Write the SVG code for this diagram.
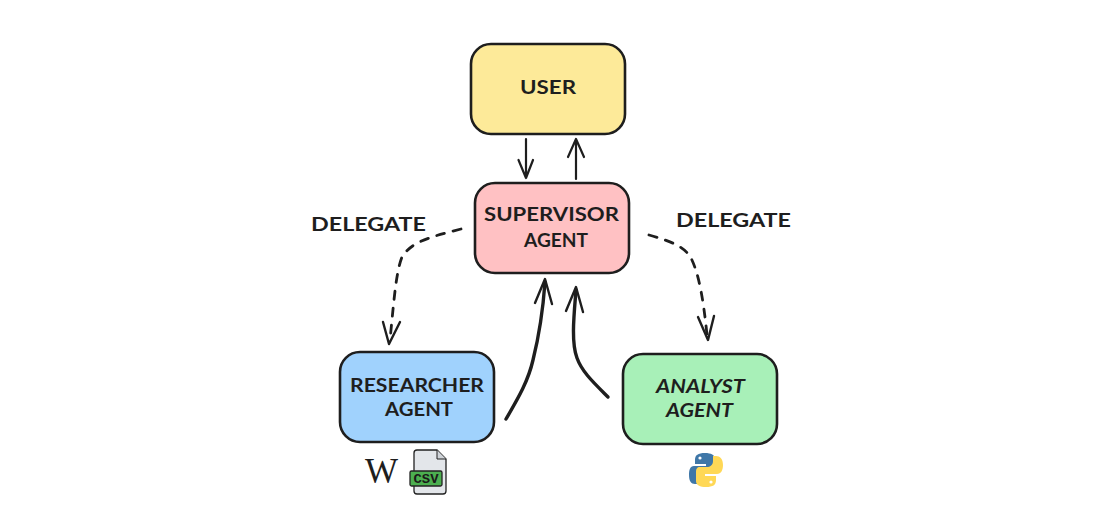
<svg xmlns="http://www.w3.org/2000/svg" width="1119" height="527" viewBox="0 0 1119 527">
<style>
.box{stroke:#1e1e1e;stroke-width:2.6}
.t{font-family:"Lato","Liberation Sans",sans-serif;font-size:19px;font-weight:700;fill:#1e1e1e;text-anchor:middle}
.c{fill:none;stroke:#1e1e1e;stroke-linecap:round;stroke-linejoin:round}
.thin{stroke-width:2.2}
.thick{stroke-width:3.4}
.head{stroke-width:2.4}
.dash{stroke-width:2.8;stroke-dasharray:8 9}
</style>
<rect width="1119" height="527" fill="#fff"/>
<g id="user"><rect class="box" x="471" y="44" width="154" height="90" rx="20" fill="#fdea99"/><text class="t" x="548" y="94" textLength="56" lengthAdjust="spacingAndGlyphs">USER</text></g>
<g id="supervisor"><rect class="box" x="475" y="183" width="154" height="90" rx="20" fill="#ffc1c3"/><text class="t" x="551.500" y="221" textLength="135" lengthAdjust="spacingAndGlyphs">SUPERVISOR</text><text class="t" x="556" y="247" textLength="64" lengthAdjust="spacingAndGlyphs">AGENT</text></g>
<g id="researcher"><rect class="box" x="340" y="352" width="154" height="90" rx="20" fill="#a0d2fd"/><text class="t" x="417" y="392" textLength="134" lengthAdjust="spacingAndGlyphs">RESEARCHER</text><text class="t" x="419" y="416" textLength="68" lengthAdjust="spacingAndGlyphs">AGENT</text></g>
<g id="analyst"><rect class="box" x="623" y="354" width="154" height="90" rx="20" fill="#a8f0b8"/><text class="t" x="700.500" y="393" textLength="89" lengthAdjust="spacingAndGlyphs" font-style="italic">ANALYST</text><text class="t" x="699.500" y="417" textLength="67" lengthAdjust="spacingAndGlyphs" font-style="italic">AGENT</text></g>
<g id="labels"><text class="t" x="368.500" y="231" textLength="115" lengthAdjust="spacingAndGlyphs">DELEGATE</text><text class="t" x="733.500" y="227" textLength="115" lengthAdjust="spacingAndGlyphs">DELEGATE</text></g>
<g id="connectors">
<path class="c thin" d="M526 139L526 178M518.500 160L526 178L533 160"/>
<path class="c thin" d="M576 179L576 140M568 157L576 139L584 157"/>
<path class="c dash" d="M461 229C425 238 411 243 402 257C396 272 394 300 390 340"/>
<path class="c head" d="M383 322L389 344L400 322"/>
<path class="c dash" d="M649 235C670 241 684 246 691 258C698 272 703 295 707 335"/>
<path class="c head" d="M698 317L708 340L714 316"/>
<path class="c thick" d="M506 419C517 400 528 382 533 360C538 340 543 310 545 282"/>
<path class="c head" d="M535 303L545 279L552 304"/>
<path class="c thick" d="M608 397C594 383 582 372 577 358C571 342 574 315 576 290"/>
<path class="c head" d="M566 311L576 287L583 312"/>
</g>
<g id="wikipedia-icon"><text x="381.500" y="483" font-family="'Liberation Serif',serif" font-size="35" fill="#1e1e1e" text-anchor="middle">W</text></g>
<g id="csv-icon">
<path d="M417 450H437L446 459V491Q446 494 443 494H417Q414 494 414 491V453Q414 450 417 450Z" fill="#e3e6ea" stroke="#222" stroke-width="1.300"/>
<path d="M437 450V459H446" fill="#cfd3d8" stroke="#222" stroke-width="1"/>
<rect x="410" y="471" width="32" height="15" rx="1.500" fill="#4caf50" stroke="#222" stroke-width="1.300"/>
<text x="426" y="483" font-family="'Liberation Mono','DejaVu Sans Mono',monospace" font-size="12.500" font-weight="700" fill="#1a1a1a" text-anchor="middle" textLength="25" lengthAdjust="spacingAndGlyphs">CSV</text>
</g>
<g id="python-icon">
<path d="M705 453C698 453 695 455 695 460V464H706V466H694C690 466 689 470 689 475C689 481 691 484 695 484H698V479C698 475 701 473 704 473H711C714 473 715 471 715 468V459C715 455 711 453 705 453Z" fill="#3f77a8"/>
<circle cx="700" cy="458" r="1.600" fill="#fff"/>
<path d="M706 487C713 487 716 485 716 480V476H705V474H717C721 474 723 470 723 465C723 459 720 456 716 456H713V461C713 465 710 467 707 467H700C697 467 696 469 696 472V481C696 485 700 487 706 487Z" fill="#ffd856"/>
<circle cx="711" cy="482" r="1.600" fill="#fff"/>
</g>
</svg>
